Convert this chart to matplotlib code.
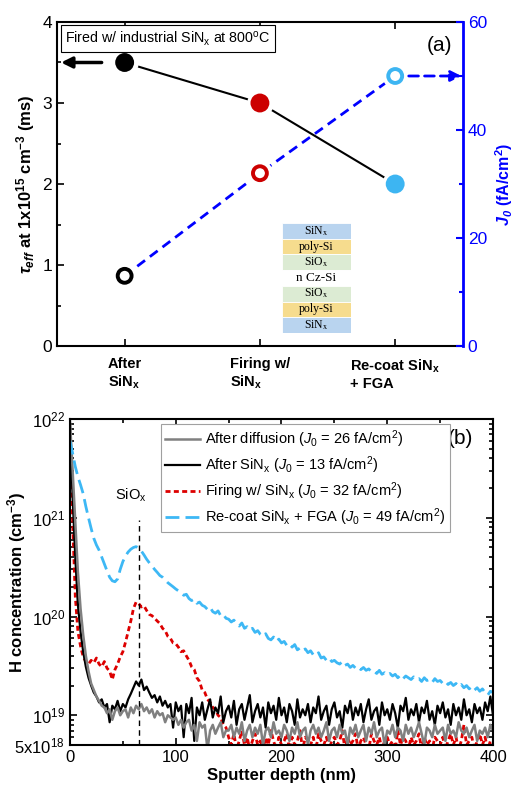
import matplotlib
matplotlib.use("Agg")
import matplotlib.pyplot as plt
from matplotlib.ticker import MultipleLocator, LogLocator, NullFormatter
import numpy as np

plt.rcParams['font.family'] = ['Liberation Sans', 'DejaVu Sans']
plt.rcParams['mathtext.fontset'] = 'custom'
plt.rcParams['mathtext.rm'] = 'Liberation Sans'
plt.rcParams['mathtext.it'] = 'Liberation Sans:italic'
plt.rcParams['mathtext.bf'] = 'Liberation Sans:bold'
plt.rcParams['mathtext.bfit'] = 'Liberation Sans:bold:italic'

# ---- panel (a) data ----
stages = ["After\nSiN$_{\\mathbf{x}}$", "Firing w/\nSiN$_{\\mathbf{x}}$", "Re-coat SiN$_{\\mathbf{x}}$\n+ FGA"]
tau_eff = [3.5, 3.0, 2.0]          # ms
j0_vals = [13, 32, 50]             # fA/cm2
stage_colors = ['black', '#cc0000', '#3db5f2']

layers = ['SiN$_\\mathrm{x}$', 'poly-Si', 'SiO$_\\mathrm{x}$', 'n Cz-Si', 'SiO$_\\mathrm{x}$', 'poly-Si', 'SiN$_\\mathrm{x}$']
layer_colors = ['#b9d4ef', '#f6dc8e', '#dcebd3', 'white', '#dcebd3', '#f6dc8e', '#b9d4ef']

# ---- panel (b) data: H concentration in units of 1e19 cm^-3, depth step 2.5 nm ----
depth = np.arange(0, 400.1, 2.5)

h_after_sinx = [
    900, 160, 40, 13, 7.0, 4.4, 3.1, 2.4, 2.0, 1.7,
    1.55, 1.35, 1.45, 1.2, 1.3, 0.85, 1.25, 1.15, 1.4, 1.1,
    1.3, 1.2, 1.45, 1.65, 1.9, 2.2, 2.0, 2.3, 1.8, 1.95,
    1.7, 1.5, 1.6, 1.35, 1.55, 1.25, 1.4, 1.2, 1.3, 0.75,
    1.35, 1.1, 1.25, 0.6, 1.3, 1.05, 1.5, 0.55, 1.2, 1.0,
    1.35, 0.9, 1.15, 1.45, 0.95, 1.2, 1.05, 1.55, 0.85, 1.1,
    1.25, 0.95, 1.4, 0.8, 1.15, 1.3, 0.9, 1.2, 1.6, 0.85,
    1.1, 1.3, 0.95, 1.2, 0.75, 1.35, 1.05, 1.25, 0.9, 1.5,
    1.0, 1.2, 0.85, 1.3, 1.1, 0.8, 1.45, 0.95, 1.15, 1.0,
    1.3, 0.85, 1.2, 1.05, 1.55, 0.9, 1.1, 1.25, 0.8, 1.15,
    1.35, 0.95, 1.1, 0.75, 1.25, 1.05, 1.4, 0.9, 1.2, 1.0,
    1.3, 0.85, 1.15, 1.45, 0.9, 1.1, 1.2, 0.8, 1.35, 1.0,
    1.15, 0.9, 1.3, 1.05, 0.75, 1.25, 1.1, 1.5, 0.9, 1.15,
    1.0, 1.3, 0.85, 1.2, 1.05, 1.4, 0.9, 1.1, 0.8, 1.25,
    1.05, 1.35, 0.95, 1.15, 0.8, 1.3, 1.0, 1.2, 0.9, 1.45,
    1.0, 1.15, 0.85, 1.3, 1.05, 1.2, 0.9, 1.35, 1.1, 1.55,
    1.0]

h_after_diff = [
    950, 300, 90, 28, 12, 6.5, 4.0, 2.8, 2.1, 1.8,
    1.55, 1.4, 1.25, 1.2, 1.05, 1.15, 0.9, 1.1, 1.2, 1.0,
    1.1, 1.15, 0.95, 1.2, 1.05, 1.25, 1.15, 1.3, 1.1, 1.2,
    1.05, 1.15, 0.95, 1.1, 1.0, 1.05, 0.85, 1.0, 0.95, 0.9,
    0.95, 0.8, 0.9, 0.75, 0.85, 0.9, 0.7, 0.8, 0.55, 0.85,
    0.75, 0.8, 0.45, 0.7, 0.8, 0.65, 0.75, 0.85, 0.6, 0.7,
    0.7, 0.8, 0.6, 0.75, 0.65, 0.85, 0.55, 0.7, 0.8, 0.6,
    0.75, 0.65, 0.8, 0.5, 0.7, 0.75, 0.6, 0.85, 0.65, 0.7,
    0.6, 0.8, 0.7, 0.55, 0.75, 0.65, 0.85, 0.6, 0.7, 0.75,
    0.5, 0.7, 0.8, 0.65, 0.75, 0.6, 0.7, 0.85, 0.55, 0.7,
    0.75, 0.6, 0.8, 0.65, 0.7, 0.5, 0.75, 0.65, 0.8, 0.6,
    0.7, 0.8, 0.55, 0.75, 0.65, 0.85, 0.6, 0.7, 0.75, 0.5,
    0.7, 0.65, 0.8, 0.6, 0.75, 0.7, 0.55, 0.8, 0.65, 0.75,
    0.6, 0.7, 0.85, 0.65, 0.5, 0.75, 0.7, 0.6, 0.8, 0.65,
    0.7, 0.75, 0.55, 0.8, 0.65, 0.7, 0.6, 0.85, 0.7, 0.65,
    0.75, 0.6, 0.7, 0.8, 0.55, 0.7, 0.65, 0.75, 0.6, 0.8,
    0.7]

h_firing = [
    700, 90, 16, 7.0, 5.0, 3.9, 3.5, 3.3, 3.6, 3.4,
    3.8, 3.3, 3.1, 3.5, 3.0, 2.8, 2.3, 2.9, 3.3, 3.9,
    4.4, 5.5, 7.0, 9.0, 12, 14, 13.5, 12.5, 12.8, 11.5,
    10.5, 10.2, 9.6, 9.0, 8.5, 7.6, 7.2, 6.3, 6.0, 5.4,
    5.3, 4.9, 4.4, 4.5, 4.0, 3.6, 3.1, 2.9, 2.4, 2.2,
    1.8, 1.7, 1.45, 1.35, 1.2, 1.15, 1.0, 0.95, 0.8, 0.75,
    0.6, 0.5, 0.65, 0.45, 0.55, 0.7, 0.5, 0.6, 0.45, 0.55,
    0.65, 0.5, 0.55, 0.45, 0.6, 0.5, 0.7, 0.55, 0.45, 0.6,
    0.5, 0.55, 0.65, 0.45, 0.6, 0.5, 0.55, 0.7, 0.45, 0.6,
    0.55, 0.5, 0.6, 0.45, 0.65, 0.55, 0.5, 0.6, 0.45, 0.55,
    0.6, 0.5, 0.55, 0.7, 0.45, 0.6, 0.5, 0.55, 0.65, 0.45,
    0.55, 0.6, 0.5, 0.45, 0.65, 0.55, 0.5, 0.6, 0.45, 0.55,
    0.6, 0.5, 0.55, 0.45, 0.7, 0.5, 0.6, 0.55, 0.45, 0.6,
    0.5, 0.55, 0.65, 0.45, 0.6, 0.5, 0.55, 0.45, 0.6, 0.55,
    0.5, 0.6, 0.45, 0.55, 0.65, 0.5, 0.6, 0.45, 0.55, 0.8,
    0.5, 0.55, 0.6, 0.45, 0.55, 0.65, 0.5, 0.6, 0.45, 0.55,
    0.5]

h_recoat = [
    600, 450, 330, 260, 215, 175, 130, 100, 78, 62,
    53, 47, 40, 34, 29, 25, 23, 22.5, 24, 30,
    36, 41, 45, 48, 50, 51, 49.5, 46, 42, 38,
    35, 32.5, 30, 28, 26, 25, 23.5, 22, 21, 20,
    19, 18.2, 17.5, 16.4, 16.8, 15.2, 14.5, 15, 13.6, 14,
    13, 12.6, 11.8, 12.4, 11.2, 10.8, 11.4, 10.2, 10.5, 9.6,
    9.4, 8.8, 9.2, 8.4, 8.0, 8.6, 7.6, 7.9, 7.3, 7.6,
    6.9, 7.2, 6.6, 6.3, 6.7, 6.0, 5.8, 6.2, 5.6, 5.9,
    5.4, 5.6, 5.1, 5.3, 4.9, 5.2, 4.6, 4.8, 4.5, 4.7,
    4.3, 4.5, 4.1, 4.0, 4.3, 3.8, 3.9, 3.6, 3.8, 3.5,
    3.6, 3.4, 3.3, 3.5, 3.2, 3.3, 3.05, 3.2, 3.0, 3.1,
    2.9, 3.05, 2.85, 2.95, 2.75, 2.8, 2.65, 2.85, 2.6, 2.7,
    2.55, 2.65, 2.5, 2.6, 2.4, 2.55, 2.35, 2.5, 2.4, 2.3,
    2.45, 2.3, 2.35, 2.2, 2.4, 2.25, 2.3, 2.15, 2.35, 2.2,
    2.25, 2.1, 2.2, 2.05, 2.15, 2.0, 2.1, 1.95, 2.05, 1.9,
    2.0, 1.85, 1.95, 1.8, 1.9, 1.75, 1.85, 1.7, 1.6, 1.75,
    1.7]

j0_legend = [26, 13, 32, 49]
sio_depth = 65

fig = plt.figure(figsize=(5.15, 7.94), dpi=100)

# ================= panel (a) =================
ax1 = fig.add_axes([0.1107, 0.5642, 0.788, 0.4081])
ax1r = ax1.twinx()
x = np.arange(len(stages))

ax1.plot(x, tau_eff, color='black', lw=1.5, zorder=2)
ax1.scatter(x, tau_eff, s=330, color='white', zorder=3)
ax1.scatter(x, tau_eff, s=185, color=stage_colors, lw=0, zorder=4)

ax1r.plot(x, j0_vals, color='blue', lw=2, dashes=(3.5, 2.2), zorder=2)
ax1r.scatter(x, j0_vals, s=300, color='white', zorder=3)
ax1r.scatter(x, j0_vals, s=100, facecolors='white', edgecolors=stage_colors, lw=2.8, zorder=4)

ax1.annotate('', xy=(-0.47, tau_eff[0]), xytext=(-0.17, tau_eff[0]),
             arrowprops=dict(arrowstyle='-|>', color='black', lw=2.5, mutation_scale=16,
                             shrinkA=0, shrinkB=0))
ax1r.annotate('', xy=(2.49, j0_vals[2]), xytext=(2.1, j0_vals[2]),
              arrowprops=dict(arrowstyle='-|>', color='blue', lw=2, mutation_scale=16,
                              linestyle=(0, (3.5, 2.2)), shrinkA=0, shrinkB=0))

ax1.set_xlim(-0.5, 2.5)
ax1.set_ylim(0, 4)
ax1r.set_ylim(0, 60)
ax1.set_xticks(x)
ax1.set_xticklabels(stages, fontsize=10.5, fontweight='bold', multialignment='left')
ax1.yaxis.set_major_locator(MultipleLocator(1))
ax1.yaxis.set_minor_locator(MultipleLocator(0.5))
ax1.tick_params(axis='x', direction='in', top=True, length=5, width=1.2, pad=8)
ax1.tick_params(axis='y', which='both', direction='in', labelsize=12.5, width=1.2)
ax1.tick_params(axis='y', which='major', length=5)
ax1.tick_params(axis='y', which='minor', length=3)
ax1r.yaxis.set_major_locator(MultipleLocator(20))
ax1r.yaxis.set_minor_locator(MultipleLocator(10))
ax1r.tick_params(axis='y', which='both', direction='in', colors='blue', labelsize=12.5, width=1.5)
ax1r.tick_params(axis='y', which='major', length=5)
ax1r.tick_params(axis='y', which='minor', length=3)
for sp in ['left', 'top', 'bottom']:
    ax1.spines[sp].set_linewidth(1.5)
ax1.spines['right'].set_visible(False)
ax1r.spines['right'].set_color('blue')
ax1r.spines['right'].set_linewidth(2)
for sp in ['left', 'top', 'bottom']:
    ax1r.spines[sp].set_visible(False)

ax1.set_ylabel("$\\mathbfit{\\tau}_{\\mathbfit{eff}}$ at 1x10$^{\\mathbf{15}}$ cm$^{\\mathbf{-3}}$ (ms)",
               fontsize=12, fontweight='bold')
ax1.yaxis.set_label_coords(-0.05, 0.5)
ax1r.set_ylabel("$\\mathbfit{J}_{\\mathbfit{0}}$ (fA/cm$^{\\mathbf{2}}$)", fontsize=11.5,
                fontweight='bold', color='blue')
ax1r.yaxis.set_label_coords(1.074, 0.5)

ax1.text(0.02, 0.949, "Fired w/ industrial SiN$_\\mathrm{x}$ at 800$^\\mathrm{o}$C",
         transform=ax1.transAxes, fontsize=10.3, va='center', ha='left',
         bbox=dict(boxstyle='square,pad=0.3', fc='white', ec='black', lw=0.8))
ax1.text(0.943, 0.929, "(a)", transform=ax1.transAxes, fontsize=15, ha='center', va='center')

# layer stack sketch
ax3 = fig.add_axes([282 / 515, 1 - 333 / 794, 69 / 515, 110 / 794])
ax3.barh(np.arange(len(layers)), 1, height=1, color=layer_colors, edgecolor='white', lw=0.6)
for i, name in enumerate(layers):
    ax3.text(0.5, i, name, ha='center', va='center', fontsize=9.5 if i == 3 else 8.5,
             family='Liberation Serif', math_fontfamily='stix')
ax3.set_xlim(0, 1)
ax3.set_ylim(len(layers) - 0.5, -0.5)
ax3.axis('off')

# ================= panel (b) =================
ax2 = fig.add_axes([0.1359, 0.0617, 0.8214, 0.4106])
scale = 1e19
l_fire, = ax2.plot(depth, np.array(h_firing) * scale, color='#dd0000', lw=2, dashes=(1.8, 1.2))
l_sinx, = ax2.plot(depth, np.array(h_after_sinx) * scale, color='black', lw=1.6)
l_diff, = ax2.plot(depth, np.array(h_after_diff) * scale, color='#808080', lw=1.8)
l_rec, = ax2.plot(depth, np.array(h_recoat) * scale, color='#3db8f5', lw=2, dashes=(5, 2.2))

names = ["After diffusion", "After SiN$_\\mathrm{x}$", "Firing w/ SiN$_\\mathrm{x}$",
         "Re-coat SiN$_\\mathrm{x}$ + FGA"]
labels = ["%s ($\\mathit{J_0}$ = %d fA/cm$^2$)" % (n, v) for n, v in zip(names, j0_legend)]
leg = ax2.legend([l_diff, l_sinx, l_fire, l_rec], labels, loc='upper right',
                 bbox_to_anchor=(0.898, 0.985), fontsize=10.5, fancybox=False,
                 edgecolor='#a0a0a0', handlelength=2.4, handletextpad=0.35,
                 labelspacing=0.3, borderpad=0.3, borderaxespad=0, framealpha=1)
leg.get_frame().set_linewidth(0.8)

ax2.axvline(sio_depth, ymin=0, ymax=0.69, color='black', lw=1, dashes=(4, 3))
ax2.annotate("SiO$_\\mathrm{x}$", xy=(sio_depth, 1.7e21), xytext=(-6, 0),
             textcoords='offset points', ha='center', va='center', fontsize=10.5)
ax2.text(0.922, 0.94, "(b)", transform=ax2.transAxes, fontsize=15, ha='center', va='center')

ax2.set_yscale('log')
ax2.set_xlim(0, 400)
ax2.set_ylim(5e18, 1e22)
ax2.set_yticks([5e18, 1e19, 1e20, 1e21, 1e22])
ax2.set_yticklabels(['5x10$^{18}$', '10$^{19}$', '10$^{20}$', '10$^{21}$', '10$^{22}$'])
ax2.yaxis.set_minor_locator(LogLocator(base=10, subs=np.arange(2, 10)))
ax2.yaxis.set_minor_formatter(NullFormatter())
ax2.xaxis.set_major_locator(MultipleLocator(100))
ax2.xaxis.set_minor_locator(MultipleLocator(50))
ax2.tick_params(which='both', direction='in', top=True, right=True, labelsize=12, width=1.2)
ax2.tick_params(which='major', length=5)
ax2.tick_params(which='minor', length=3)
for sp in ax2.spines.values():
    sp.set_linewidth(1.5)
ax2.set_xlabel("Sputter depth (nm)", fontsize=12, fontweight='bold', labelpad=2)
ax2.set_ylabel("H concentration (cm$^{\\mathbf{-3}}$)", fontsize=12, fontweight='bold')
ax2.yaxis.set_label_coords(-0.1, 0.5)

fig.savefig('out.png', dpi=100)
